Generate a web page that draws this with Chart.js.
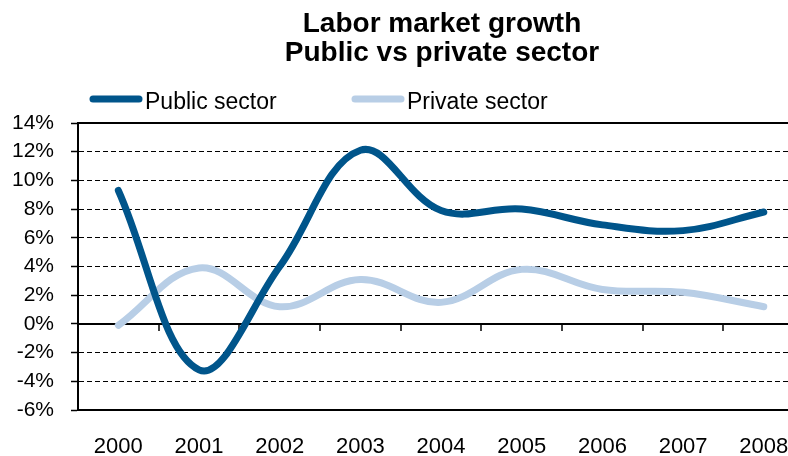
<!DOCTYPE html>
<html>
<head>
<meta charset="utf-8">
<script src="https://cdn.jsdelivr.net/npm/chart.js@4.4.0/dist/chart.umd.min.js"></script>
<style>
body { margin: 0; background: #fff; }
</style>
</head>
<body>
<canvas id="chart_canvas" width="788" height="456"></canvas>
<script>
var years = ['2000', '2001', '2002', '2003', '2004', '2005', '2006', '2007', '2008'];
var publicSector = [9.3, -3.2, 4.0, 12.1, 7.9, 8.0, 6.9, 6.5, 7.8];
var privateSector = [-0.1, 3.9, 1.2, 3.1, 1.5, 3.8, 2.4, 2.2, 1.2];
var seriesNames = ['Public sector', 'Private sector'];
var seriesColors = ['#00558b', '#b8cee6'];
var titleLines = ['Labor market growth', 'Public vs private sector'];

var FONT = '"Liberation Sans", Arial, sans-serif';

function toPoints(vals) {
	return vals.map(function(v, i) { return { x: i, y: v }; });
}

// solid lines (zero, top, bottom), boundary ticks on the zero line, title and legend
var decor = {
	id: 'decor',
	beforeDatasetsDraw: function(chart) {
		var ctx = chart.ctx, a = chart.chartArea;
		var xs = chart.scales.x, ys = chart.scales.y;
		var y0 = Math.round(ys.getPixelForValue(0));
		ctx.save();
		ctx.strokeStyle = '#000';
		ctx.lineWidth = 2;
		ctx.beginPath();
		ctx.moveTo(a.left, y0); ctx.lineTo(a.right, y0);
		ctx.moveTo(a.left, a.top); ctx.lineTo(a.right, a.top);
		ctx.moveTo(a.left, a.bottom); ctx.lineTo(a.right, a.bottom);
		ctx.stroke();
		ctx.lineWidth = 1.5;
		ctx.beginPath();
		for (var i = 0; i < years.length; i++) {
			var bx = Math.round(xs.getPixelForValue(i + 0.5));
			if (bx > a.right) continue;
			ctx.moveTo(bx, y0); ctx.lineTo(bx, y0 + 7);
		}
		ctx.stroke();
		ctx.restore();
	},
	afterDraw: function(chart) {
		var ctx = chart.ctx;
		ctx.save();
		ctx.fillStyle = '#000';
		ctx.font = 'bold 28px ' + FONT;
		ctx.textAlign = 'center';
		ctx.textBaseline = 'alphabetic';
		ctx.fillText(titleLines[0], 442, 32);
		ctx.fillText(titleLines[1], 442, 61);

		var legX = [90, 352];
		ctx.font = '23px ' + FONT;
		ctx.textAlign = 'left';
		ctx.lineCap = 'round';
		ctx.lineWidth = 7;
		for (var i = 0; i < seriesNames.length; i++) {
			ctx.strokeStyle = seriesColors[i];
			ctx.beginPath();
			ctx.moveTo(legX[i] + 3, 99);
			ctx.lineTo(legX[i] + 49, 99);
			ctx.stroke();
			ctx.fillText(seriesNames[i], legX[i] + 55, 109);
		}
		ctx.restore();
	}
};

var ctx = document.getElementById('chart_canvas').getContext('2d');
var myChart = new Chart(ctx, {
	type: 'line',
	data: {
		datasets: [{
			label: seriesNames[0],
			data: toPoints(publicSector),
			borderColor: seriesColors[0],
			borderWidth: 7,
			borderCapStyle: 'round',
			tension: 0.38,
			pointRadius: 0,
			fill: false
		}, {
			label: seriesNames[1],
			data: toPoints(privateSector),
			borderColor: seriesColors[1],
			borderWidth: 7,
			borderCapStyle: 'round',
			tension: 0.38,
			pointRadius: 0,
			fill: false
		}]
	},
	options: {
		responsive: false,
		animation: false,
		devicePixelRatio: 1,
		layout: { padding: { top: 123, left: 0, right: 0, bottom: 0 }, autoPadding: false },
		plugins: {
			legend: { display: false },
			title: { display: false },
			tooltip: { enabled: false }
		},
		scales: {
			x: {
				type: 'linear',
				min: -0.5,
				max: 8.3,
				afterBuildTicks: function(scale) {
					scale.ticks = years.map(function(y, i) { return { value: i }; });
				},
				afterFit: function(scale) {
					scale.height = 46;
					scale.paddingLeft = 0;
					scale.paddingRight = 0;
				},
				ticks: {
					autoSkip: false,
					maxRotation: 0,
					padding: 24,
					color: '#000',
					font: { family: FONT, size: 22 },
					callback: function(v) { return years[v]; }
				},
				grid: { display: false, drawTicks: false },
				border: { display: false }
			},
			y: {
				min: -6,
				max: 14,
				afterFit: function(scale) { scale.width = 78; },
				ticks: {
					stepSize: 2,
					padding: 17,
					color: '#000',
					font: { family: FONT, size: 21 },
					callback: function(v) { return v + '%'; }
				},
				grid: {
					color: '#000',
					lineWidth: 1,
					tickLength: 7,
					tickColor: '#000',
					tickWidth: 1.5,
					tickBorderDash: []
				},
				border: { display: true, color: '#000', width: 2, dash: [5, 3] }
			}
		}
	},
	plugins: [decor]
});
</script>
</body>
</html>
